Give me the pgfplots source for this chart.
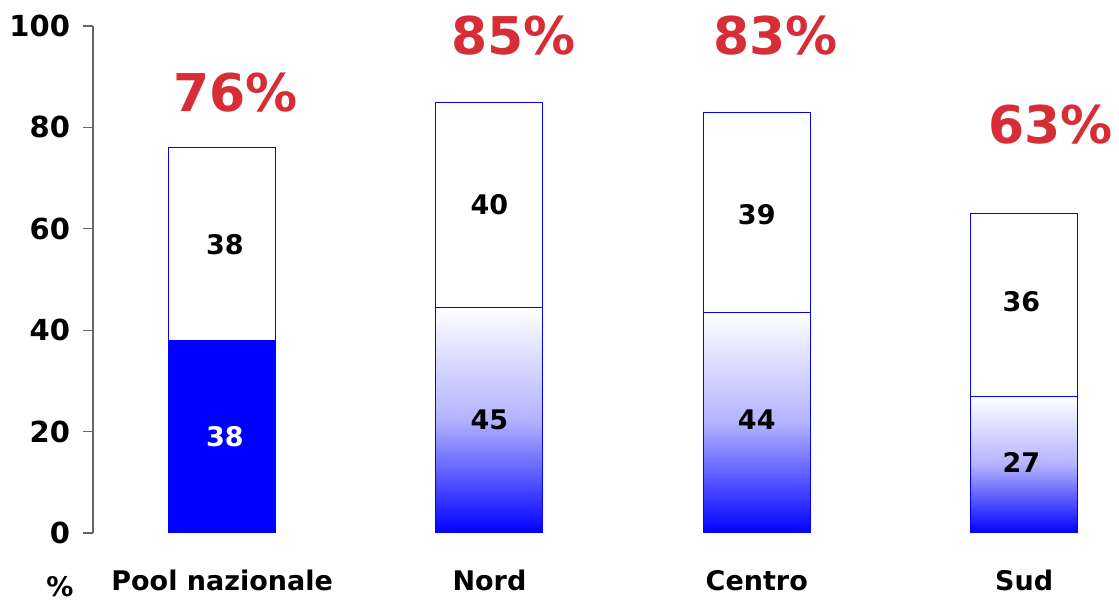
\documentclass[border=0pt]{standalone}
\usepackage{pgfplots}
\pgfplotsset{compat=1.18}
\usepackage{fontspec}
\setmainfont{DejaVu Sans}
\definecolor{pctred}{RGB}{214,45,55}
\begin{document}
\begin{tikzpicture}[font=\bfseries]
\begin{axis}[
  scale only axis, width=513pt, height=253.5pt,
  xmin=-0.483, xmax=3.355, ymin=0, ymax=100,
  clip=false,
  axis y line*=left, axis x line*=bottom,
  x axis line style={draw=none},
  y axis line style={draw=gray!80!black, line width=0.6pt},
  ytick={0,20,...,100},
  xtick={0,1,2,3},
  xticklabels={Pool nazionale, Nord, Centro, Sud},
  tick align=outside,
  major tick length=5pt,
  ytick style={draw=gray!80!black, line width=0.6pt},
  xtick style={draw=none},
  yticklabel style={font=\fontsize{14.5}{16}\selectfont\bfseries, xshift=-3pt},
  xticklabel style={font=\fontsize{13.5}{16}\selectfont\bfseries, yshift=-10pt},
  /pgf/number format/assume math mode=true,
  ybar, bar width=0.4,
  shadebar/.style={ybar, bar shift=0pt, draw=blue, line width=0.5pt, top color=white, bottom color=blue, middle color=blue!30},
]
\addplot[ybar, bar shift=0pt, draw=blue, fill=white, line width=0.5pt] coordinates {(0,76)(1,85)(2,83)(3,63)};
\addplot[ybar, bar shift=0pt, draw=blue, fill=blue, line width=0.5pt] coordinates {(0,38)};
\addplot[shadebar] coordinates {(1,44.5)};
\addplot[shadebar] coordinates {(2,43.5)};
\addplot[shadebar] coordinates {(3,27)};

\begin{scope}[every node/.style={font=\fontsize{13.5}{16}\selectfont\bfseries}]
\node at (axis cs:0.01,56.8) {38};
\node[text=white] at (axis cs:0.01,18.9) {38};
\node at (axis cs:1,64.7) {40};
\node at (axis cs:1,22.3) {45};
\node at (axis cs:2,62.7) {39};
\node at (axis cs:2,22.3) {44};
\node at (axis cs:2.99,45.6) {36};
\node at (axis cs:2.99,14.0) {27};
\end{scope}
\begin{scope}[every node/.style={text=pctred, font=\fontsize{26}{28}\selectfont\bfseries}]
\node at (axis cs:0.05,86.8) {76\%};
\node at (axis cs:1.09,98.1) {85\%};
\node at (axis cs:2.07,98.1) {83\%};
\node at (axis cs:3.10,80.5) {63\%};
\end{scope}
\end{axis}
\node[font=\fontsize{13.5}{16}\selectfont\bfseries] at ([shift={(-16.5pt,-27pt)}]current axis.south west) {\%};
\pgfresetboundingbox
\path ([shift={(-46.5pt,-34.5pt)}]current axis.south west) rectangle ([shift={(0pt,13pt)}]current axis.north east);
\end{tikzpicture}
\end{document}
